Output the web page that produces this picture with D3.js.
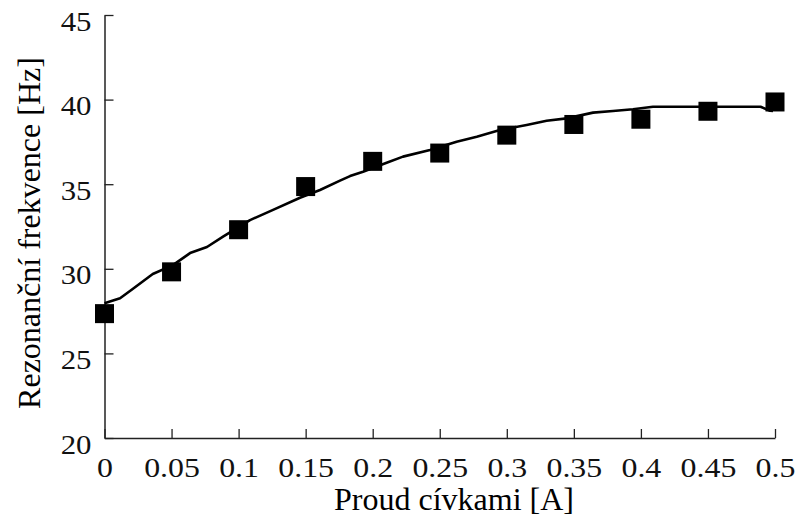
<!DOCTYPE html>
<html>
<head>
<meta charset="utf-8">
<script src="https://cdn.jsdelivr.net/npm/d3@7"></script>
<style>
  html, body { margin: 0; padding: 0; background: #fff; }
  svg { display: block; }
</style>
</head>
<body>
<svg id="chart" width="800" height="524"></svg>
<script>
// Measured points
const current = [0, 0.05, 0.1, 0.15, 0.2, 0.25, 0.3, 0.35, 0.4, 0.45, 0.5];
const frequency = [27.35, 29.82, 32.31, 34.86, 36.35, 36.84, 37.9, 38.53, 38.84, 39.31, 39.86];

// Fitted curve
const fitX = [0, 0.0116, 0.021, 0.036, 0.051, 0.0638, 0.0764, 0.0884, 0.1085, 0.1257, 0.1458, 0.1607,
  0.1756, 0.1831, 0.1928, 0.2104, 0.2226, 0.2427, 0.2626, 0.2776, 0.2949, 0.3148, 0.3297, 0.3447,
  0.3643, 0.3792, 0.3941, 0.409, 0.4892, 0.4963, 0.4985];
const fitY = [27.96, 28.26, 28.81, 29.69, 30.22, 30.93, 31.29, 31.9, 32.88, 33.48, 34.2, 34.66,
  35.21, 35.48, 35.74, 36.27, 36.63, 37.02, 37.51, 37.81, 38.2, 38.5, 38.75, 38.89,
  39.23, 39.33, 39.43, 39.58, 39.58, 39.34, 39.33];

const xTicks = [0, 0.05, 0.1, 0.15, 0.2, 0.25, 0.3, 0.35, 0.4, 0.45, 0.5];
const xTickLabels = ["0", "0.05", "0.1", "0.15", "0.2", "0.25", "0.3", "0.35", "0.4", "0.45", "0.5"];
const yTicks = [20, 25, 30, 35, 40, 45];
const xTitle = "Proud cívkami [A]";
const yTitle = "Rezonanční frekvence [Hz]";

(function () {
const svg = d3.select("#chart");
const mLeft = 104.5, mRight = 775, mTop = 15, mBottom = 438;
const x = d3.scaleLinear().domain([0, 0.5]).range([mLeft, mRight]);
const y = d3.scaleLinear().domain([20, 45]).range([mBottom, mTop]);
const font = '"Liberation Serif", Tinos';
const axisColor = "#222";

// X axis
const gx = svg.append("g").attr("transform", `translate(0,${mBottom})`)
  .call(d3.axisBottom(x).tickValues(xTicks).tickSize(-9).tickSizeOuter(0)
    .tickFormat((d, i) => xTickLabels[i]));
gx.attr("font-family", null).attr("font-size", null);
gx.select(".domain").attr("stroke", axisColor).attr("stroke-width", 1.5);
gx.selectAll(".tick line").attr("stroke", axisColor).attr("stroke-width", 1.3);
gx.selectAll(".tick text")
  .attr("y", 39).attr("dy", null)
  .style("font-family", font).style("font-size", "27px").attr("fill", "#111")
  .attr("transform", "scale(1.18,1)")
  .attr("text-anchor", "middle");

// Y axis
const gy = svg.append("g").attr("transform", `translate(${mLeft},0)`)
  .call(d3.axisLeft(y).tickValues(yTicks).tickSize(-9).tickSizeOuter(0).tickFormat(d3.format("d")));
gy.attr("font-family", null).attr("font-size", null);
gy.select(".domain").attr("stroke", axisColor).attr("stroke-width", 1.5);
gy.selectAll(".tick line").attr("stroke", axisColor).attr("stroke-width", 1.3);
gy.selectAll(".tick text")
  .attr("x", -13 / 1.1).attr("y", 15).attr("dy", null)
  .attr("transform", "scale(1.1,1)")
  .style("font-family", font).style("font-size", "28px").attr("fill", "#111")
  .attr("text-anchor", "end");

// Fitted line
const line = d3.line().x((d, i) => x(fitX[i])).y((d, i) => y(fitY[i])).curve(d3.curveLinear);
svg.append("path")
  .datum(fitX)
  .attr("d", line)
  .attr("fill", "none")
  .attr("stroke", "#000")
  .attr("stroke-width", 2.6)
  .attr("stroke-linejoin", "round");

// Points
const s = 19;
svg.append("g").selectAll("rect")
  .data(current)
  .join("rect")
  .attr("x", (d) => x(d) - s / 2)
  .attr("y", (d, i) => y(frequency[i]) - s / 2)
  .attr("width", s)
  .attr("height", s)
  .attr("fill", "#000");

// Titles
svg.append("text")
  .attr("x", 454).attr("y", 510)
  .attr("text-anchor", "middle")
  .style("font-family", font).style("font-size", "32px").attr("fill", "#000")
  .text(xTitle);

svg.append("text")
  .attr("transform", "translate(40,233) rotate(-90)")
  .attr("text-anchor", "middle")
  .style("font-family", font).style("font-size", "32px").attr("fill", "#000")
  .text(yTitle);
})();
</script>
</body>
</html>
